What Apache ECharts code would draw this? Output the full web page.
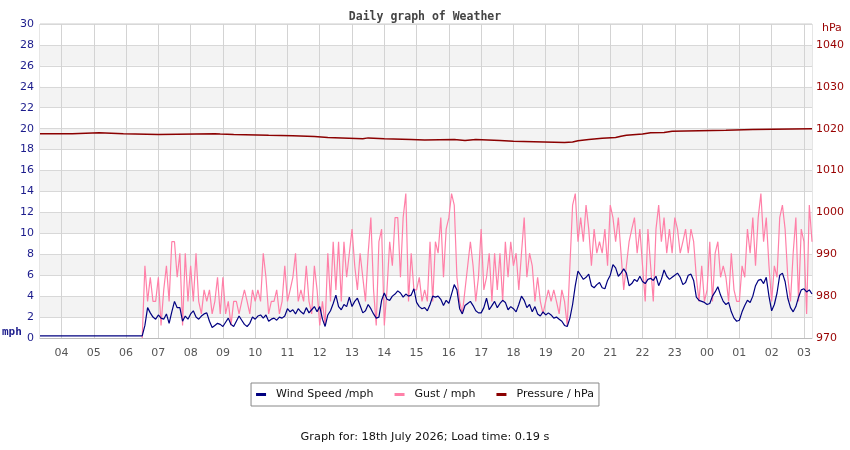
<!DOCTYPE html>
<html>
<head>
<meta charset="utf-8">
<title>Daily graph of Weather</title>
<script src="https://cdn.jsdelivr.net/npm/echarts@6/dist/echarts.min.js"></script>
<style>
  html, body { margin: 0; padding: 0; background: #fff; }
  #weather { width: 850px; height: 450px; }
</style>
</head>
<body>
<div id="weather"></div>
<script>
function pad(n) {
  return (n < 10 ? '0' : '') + n;
}

// 5 minute samples, 03:20 on the 17th up to 03:15 on the 18th
var startMinute = 3 * 60 + 20;
var sampleCount = 288;
var times = [];
for (var i = 0; i < sampleCount; i++) {
  var m = (startMinute + i * 5) % 1440;
  times.push(pad(Math.floor(m / 60)) + ':' + pad(m % 60));
}

// station reported calm until the anemometer woke up
var windCalm = [['03:20', 0.2], ['06:30', 0.2]];
var gustCalm = [['06:30', 0]];
var windStart = '06:35';

// wind speed /mph, one row per hour
var windSpeed = [
  1.2, 2.9, 2.4, 2.0, 1.8,
  2.2, 1.9, 1.8, 2.3, 1.4, 2.5, 3.5, 2.9, 2.9, 1.6, 2.1, 1.8,   // 07
  2.3, 2.6, 2.0, 1.8, 2.1, 2.3, 2.4, 1.6, 1.0, 1.2, 1.4, 1.3,   // 08
  1.1, 1.5, 1.9, 1.3, 1.1, 1.6, 2.1, 1.7, 1.3, 1.1, 1.4, 2.0,   // 09
  1.8, 2.1, 2.2, 1.9, 2.2, 1.6, 1.8, 1.9, 1.7, 2.0, 1.9, 2.1,   // 10
  2.8, 2.5, 2.7, 2.3, 2.8, 2.5, 2.3, 2.9, 2.4, 2.7, 3.0, 2.5,   // 11
  3.0, 1.8, 1.1, 2.2, 2.6, 3.3, 4.1, 3.0, 2.7, 3.2, 3.0, 3.9,   // 12
  3.0, 3.5, 3.8, 3.1, 2.4, 2.6, 3.2, 2.8, 2.3, 1.9, 2.0, 3.6,   // 13
  4.3, 3.7, 3.6, 4.0, 4.2, 4.5, 4.3, 3.9, 4.2, 4.0, 4.1, 4.7,   // 14
  3.4, 3.0, 2.8, 2.9, 2.6, 3.2, 4.0, 3.9, 4.0, 3.7, 3.1, 3.6,   // 15
  3.3, 4.2, 5.1, 4.6, 2.8, 2.3, 3.1, 3.3, 3.5, 3.1, 2.6, 2.4,   // 16
  2.4, 2.9, 3.8, 2.7, 3.1, 3.5, 2.9, 3.3, 3.6, 3.4, 2.7, 3.0,   // 17
  2.8, 2.5, 3.2, 4.0, 3.6, 2.9, 3.2, 2.5, 3.0, 2.3, 2.1, 2.5,   // 18
  2.2, 2.4, 2.2, 1.9, 2.0, 1.8, 1.6, 1.2, 1.1, 1.9, 3.2, 5.0,   // 19
  6.4, 6.0, 5.6, 5.8, 6.1, 5.0, 4.8, 5.1, 5.3, 4.8, 4.7, 5.5,   // 20
  6.0, 7.0, 6.7, 5.9, 6.2, 6.6, 6.2, 5.0, 5.2, 5.6, 5.4, 5.9,   // 21
  5.4, 5.2, 5.6, 5.7, 5.5, 5.9, 5.0, 5.6, 6.5, 5.9, 5.6, 5.8,   // 22
  6.0, 6.2, 5.8, 5.1, 5.3, 6.0, 6.1, 5.5, 3.9, 3.6, 3.5, 3.4,   // 23
  3.2, 3.3, 4.0, 4.4, 4.9, 4.1, 3.5, 3.2, 3.4, 2.5, 1.9, 1.6,   // 00
  1.7, 2.5, 3.1, 3.6, 3.4, 4.0, 5.0, 5.5, 5.6, 5.2, 5.8, 4.0,   // 01
  2.6, 3.2, 4.3, 6.0, 6.2, 5.4, 3.8, 2.9, 2.5, 3.0, 3.9, 4.6,   // 02
  4.7, 4.4, 4.6, 4.2                                            // 03
];

// gust / mph (whole knots, so the values sit on steps of 1.15)
var gust = [
  6.9, 3.5, 5.8, 3.5, 3.5,
  5.8, 1.2, 4.6, 6.9, 3.5, 9.2, 9.2, 5.8, 8.1, 1.2, 8.1, 3.5,
  6.9, 3.5, 8.1, 3.5, 2.3, 4.6, 3.5, 4.6, 2.3, 3.5, 5.8, 2.3,
  5.8, 2.3, 3.5, 1.2, 3.5, 3.5, 2.3, 3.5, 4.6, 3.5, 2.3, 4.6,
  3.5, 4.6, 3.5, 8.1, 5.8, 2.3, 3.5, 3.5, 4.6, 2.3, 3.5, 6.9,
  3.5, 4.6, 5.8, 8.1, 3.5, 4.6, 3.5, 6.9, 3.5, 2.3, 6.9, 4.6,
  1.2, 3.5, 1.2, 8.1, 3.5, 9.2, 4.6, 9.2, 3.5, 9.2, 5.8, 8.1,
  10.4, 6.9, 4.6, 8.1, 5.8, 3.5, 8.1, 11.5, 4.6, 1.2, 9.2, 10.4,
  1.2, 4.6, 9.2, 6.9, 11.5, 11.5, 5.8, 11.5, 13.8, 3.5, 8.1, 4.6,
  4.6, 5.8, 3.5, 4.6, 3.5, 9.2, 3.5, 9.2, 8.1, 11.5, 5.8, 10.4,
  11.5, 13.8, 12.7, 5.8, 3.5, 2.3, 4.6, 6.9, 9.2, 6.9, 3.5, 5.8,
  10.4, 4.6, 5.8, 8.1, 3.5, 8.1, 4.6, 8.1, 3.5, 9.2, 5.8, 9.2,
  6.9, 8.1, 4.6, 8.1, 11.5, 5.8, 8.1, 6.9, 3.5, 5.8, 3.5, 2.3,
  3.5, 4.6, 3.5, 4.6, 3.5, 2.3, 4.6, 3.5, 1.2, 6.9, 12.7, 13.8,
  9.2, 11.5, 9.2, 12.7, 10.4, 6.9, 10.4, 8.1, 9.2, 8.1, 10.4, 6.9,
  12.7, 11.5, 9.2, 11.5, 8.1, 4.6, 6.9, 9.2, 10.4, 11.5, 8.1, 10.4,
  6.9, 3.5, 10.4, 6.9, 3.5, 10.4, 12.7, 9.2, 11.5, 8.1, 10.4, 8.1,
  11.5, 10.4, 8.1, 9.2, 10.4, 8.1, 10.4, 9.2, 5.8, 3.5, 6.9, 3.5,
  4.6, 9.2, 3.5, 8.1, 9.2, 5.8, 6.9, 5.8, 3.5, 8.1, 4.6, 3.5,
  3.5, 6.9, 5.8, 10.4, 8.1, 11.5, 6.9, 11.5, 13.8, 9.2, 11.5, 6.9,
  3.5, 6.9, 5.8, 11.5, 12.7, 10.4, 5.8, 3.5, 8.1, 11.5, 3.5, 10.4,
  9.2, 2.3, 12.7, 9.2
];

// pressure / hPa, only where the reading changed (drawn as steps)
var pressureSteps = [
  ['03:20', 1018.8], ['04:20', 1019.0], ['05:10', 1018.8], ['05:55', 1018.6],
  ['07:00', 1018.8], ['08:45', 1018.7], ['08:55', 1018.6], ['09:20', 1018.4],
  ['10:25', 1018.3], ['11:10', 1018.1], ['11:50', 1017.9], ['12:15', 1017.6],
  ['13:20', 1017.8], ['13:30', 1017.6], ['14:00', 1017.4], ['14:50', 1017.3],
  ['15:15', 1017.4], ['16:10', 1017.2], ['16:30', 1017.4], ['16:50', 1017.2],
  ['17:35', 1017.0], ['18:00', 1016.7], ['19:35', 1016.8], ['19:50', 1017.1],
  ['20:00', 1017.4], ['20:20', 1017.7], ['20:45', 1017.9], ['21:10', 1018.2],
  ['21:20', 1018.4], ['21:30', 1018.7], ['22:00', 1019.0], ['22:15', 1019.1],
  ['22:40', 1019.4], ['22:55', 1019.6], ['00:35', 1019.8], ['01:25', 1020.0],
  ['03:15', 1020.0]
];

var mphTicks = { min: 0, max: 30, step: 2 };
var hpaTicks = { min: 970, max: 1045, step: 10 };

var first = times.indexOf(windStart);
var windData = windCalm.concat(windSpeed.map(function (v, k) { return [times[first + k], v]; }));
var gustData = gustCalm.concat(gust.map(function (v, k) { return [times[first + k], v]; }));

function onTheHour(index, value) {
  return value.slice(3) === '00';
}

var chart = echarts.init(document.getElementById('weather'));

var option = {
  animation: false,
  textStyle: { fontFamily: 'DejaVu Sans' },
  title: {
    text: 'Daily graph of Weather',
    left: 'center',
    top: 6,
    textStyle: {
      fontFamily: 'DejaVu Sans Mono',
      fontSize: 11.5,
      fontWeight: 'bold',
      color: '#444'
    }
  },
  legend: {
    data: ['Wind Speed /mph', 'Gust / mph', 'Pressure / hPa'],
    left: 'center',
    top: 383,
    icon: 'rect',
    itemWidth: 10,
    itemHeight: 3,
    itemGap: 21,
    padding: [6, 5, 6, 5],
    borderColor: '#888',
    borderWidth: 1,
    textStyle: { fontSize: 11, color: '#111', padding: [0, 0, 0, 5] }
  },
  grid: {
    left: 40,
    right: 38,
    top: 24,
    bottom: 112,
    show: true,
    borderColor: '#ccc',
    borderWidth: 1
  },
  graphic: [
    {
      type: 'text', left: 2, top: 327,
      style: { text: 'mph', fill: '#1c1c8c', font: 'bold 11px "DejaVu Sans Mono"' }
    },
    {
      type: 'text', left: 822, top: 23,
      style: { text: 'hPa', fill: '#990000', font: '11px "DejaVu Sans"' }
    },
    {
      type: 'text', left: 'center', top: 432,
      style: { text: 'Graph for: 18th July 2026; Load time: 0.19 s', fill: '#111', font: '11.3px "DejaVu Sans"' }
    }
  ],
  xAxis: {
    type: 'category',
    data: times,
    boundaryGap: false,
    axisLine: { lineStyle: { color: '#bbb' } },
    axisTick: { show: false },
    axisLabel: {
      interval: onTheHour,
      formatter: function (v) { return v.slice(0, 2); },
      color: '#555',
      fontSize: 11,
      margin: 10
    },
    splitLine: { show: true, interval: onTheHour, lineStyle: { color: '#d3d3d3' } }
  },
  yAxis: [
    {
      type: 'value',
      min: mphTicks.min,
      max: mphTicks.max,
      interval: mphTicks.step,
      axisLine: { show: false },
      axisTick: { show: false },
      axisLabel: { color: '#1c1c8c', fontSize: 11, margin: 6 },
      splitLine: { lineStyle: { color: '#d8d8d8' } },
      splitArea: { show: true, areaStyle: { color: ['#ffffff', '#f3f3f3'] } }
    },
    {
      type: 'value',
      min: hpaTicks.min,
      max: hpaTicks.max,
      interval: hpaTicks.step,
      axisLine: { show: false },
      axisTick: { show: false },
      axisLabel: {
        color: '#990000',
        fontSize: 11,
        margin: 4,
        formatter: function (v) { return v % 10 === 0 ? String(v) : ''; }
      },
      splitLine: { show: false }
    }
  ],
  series: [
    {
      name: 'Gust / mph',
      type: 'line',
      data: gustData,
      showSymbol: false,
      color: '#ff80a8',
      lineStyle: { width: 1.2 },
      z: 2
    },
    {
      name: 'Wind Speed /mph',
      type: 'line',
      data: windData,
      showSymbol: false,
      color: '#000080',
      lineStyle: { width: 1.2 },
      z: 3
    },
    {
      name: 'Pressure / hPa',
      type: 'line',
      yAxisIndex: 1,
      data: pressureSteps,
      step: 'end',
      showSymbol: false,
      color: '#8b0000',
      lineStyle: { width: 1.5 },
      z: 4
    }
  ]
};

chart.setOption(option);
</script>
</body>
</html>
